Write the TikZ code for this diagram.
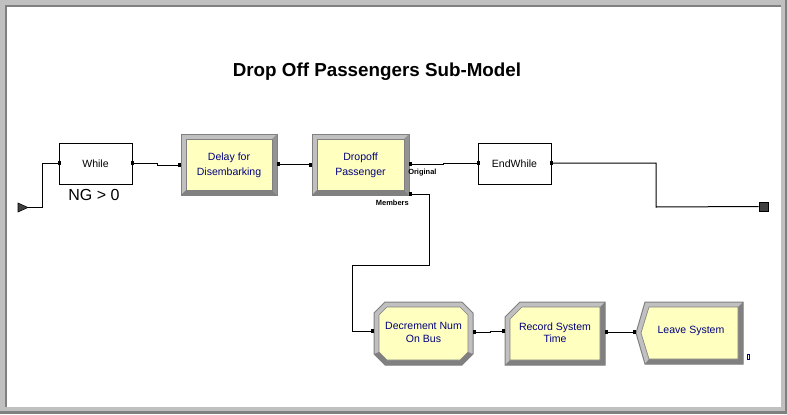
\documentclass[tikz,border=0pt]{standalone}
\usepackage{fontspec}
\setmainfont{Liberation Sans}
\begin{document}
\begin{tikzpicture}[x=0.75pt,y=-0.75pt,
  lbl/.style={inner sep=0pt,outer sep=0pt,align=center,font=\fontsize{7.9pt}{9.2pt}\selectfont},
  ylbl/.style={lbl,text=navy},
  ylblwide/.style={ylbl,font=\fontsize{7.9pt}{11.25pt}\selectfont},
  conn/.style={draw=black,line width=0.75pt},
  tiny/.style={inner sep=0pt,font=\fontsize{5.6pt}{6pt}\selectfont\bfseries}]
\definecolor{navy}{RGB}{0,0,128}
\definecolor{ltgray}{RGB}{192,192,192}
\definecolor{dkgray}{RGB}{128,128,128}
\definecolor{ylw}{RGB}{255,255,192}
\definecolor{endc}{RGB}{64,64,64}
% frame
\fill[ltgray] (0,0) rectangle (787,414);
\fill[dkgray] (785,0) rectangle (787,414);
\fill[dkgray] (0,411) rectangle (787,414);
\fill[dkgray] (5,5) rectangle (781,407);
\fill[white] (7,7) rectangle (781,407);
\useasboundingbox (0,0) rectangle (787,414);

% title
\node[inner sep=0pt,font=\fontsize{14.1pt}{16pt}\selectfont\bfseries] (title) at (377,72) {Drop Off Passengers Sub-Model};

% white boxes
\node[draw=black,line width=0.75pt,fill=white,minimum width=54.75pt,minimum height=30.75pt,inner sep=0pt,lbl] (while) at (95.5,163.5) {While};
\node[inner sep=0pt,font=\fontsize{12pt}{13pt}\selectfont] (ng) at (94,195) {NG > 0};
\node[draw=black,line width=0.75pt,fill=white,minimum width=54.75pt,minimum height=30.75pt,inner sep=0pt,lbl] (endwhile) at (514.5,163.5) {EndWhile};

% bevelled rectangles
\newcommand{\bevrect}[4]{%
  \fill[ltgray,draw=dkgray,line width=0.75pt] (#1,#2) rectangle (#3,#4);
  \fill[dkgray] (#1,#4) -- ++(5,-5) -- (#3-5,#4-5) -- (#3,#4) -- cycle;
  \fill[dkgray!70!ltgray] (#3,#2) -- ++(-5,5) -- (#3-5,#4-5) -- (#3,#4) -- cycle;
  \fill[ylw,draw=dkgray,line width=0.5pt] (#1+5,#2+5) rectangle (#3-5,#4-5);}
\bevrect{181}{134}{277}{195}
\bevrect{312}{134}{409}{195}

% octagon (Decrement)
\fill[ltgray,draw=dkgray,line width=0.75pt] (385,302) -- (462,302) -- (473,313) -- (473,354) -- (462,365) -- (385,365) -- (374,354) -- (374,313) -- cycle;
\fill[dkgray] (374,354) -- (385,365) -- (462,365) -- (473,354) -- (468,352) -- (460,360) -- (387,360) -- (379,352) -- cycle;
\fill[ylw,draw=dkgray,line width=0.5pt] (387,307) -- (460,307) -- (468,315) -- (468,352) -- (460,360) -- (387,360) -- (379,352) -- (379,315) -- cycle;

% cut corner (Record)
\fill[ltgray,draw=dkgray,line width=0.75pt] (520,302) -- (605,302) -- (605,365) -- (505,365) -- (505,317) -- cycle;
\fill[dkgray] (505,365) -- (605,365) -- (605,302) -- (600,307) -- (600,360) -- (510,360) -- cycle;
\fill[ylw,draw=dkgray,line width=0.5pt] (522,307) -- (600,307) -- (600,360) -- (510,360) -- (510,319) -- cycle;

% chevron (Leave)
\fill[ltgray,draw=dkgray,line width=0.75pt] (645,302) -- (743,302) -- (743,364) -- (645,364) -- (636,333) -- cycle;
\fill[dkgray] (645,364) -- (743,364) -- (743,302) -- (738,307) -- (738,359) -- (649,359) -- cycle;
\fill[ylw,draw=dkgray,line width=0.5pt] (649,307) -- (738,307) -- (738,359) -- (649,359) -- (641,333) -- cycle;

% text nodes on yellow shapes
\node[ylblwide,minimum width=72pt,minimum height=45.75pt] (delay) at (229,165.5) {Delay for\\Disembarking};
\node[ylblwide,minimum width=72.75pt,minimum height=45.75pt] (dropoff) at (360.5,165.5) {Dropoff\\Passenger};
\node[ylbl,minimum width=74.25pt,minimum height=47.25pt] (decr) at (423.5,332.5) {Decrement Num\\On Bus};
\node[ylbl,minimum width=75pt,minimum height=47.25pt] (record) at (555,332.5) {Record System\\Time};
\node[ylbl,minimum width=80.25pt,minimum height=46.5pt] (leave) at (691,330.5) {Leave System};

% small blue marker
\draw[navy,line width=0.6pt] (747,354) rectangle (749,359);

% start and end
\fill[endc,draw=black,line width=0.4pt] (18,203) -- (28,207.5) -- (18,212) -- cycle;
\coordinate (startpt) at (28,207.5);
\node[fill=endc,draw=black,line width=0.5pt,minimum size=6.75pt,inner sep=0pt] (endsq) at (763.5,206.5) {};

% connection points
\coordinate (wIn) at (59,163);
\coordinate (wOut) at (132,163);
\coordinate (dIn) at (181,165);
\coordinate (dOut) at (277,164);
\coordinate (pIn) at (312,164.5);
\coordinate (pOrig) at (409,164);
\coordinate (pMem) at (409,194);
\coordinate (eIn) at (478,163);
\coordinate (eOut) at (551,163);
\coordinate (cIn) at (374,331);
\coordinate (cOut) at (473,332);
\coordinate (rIn) at (505,331);
\coordinate (rOut) at (605,332);
\coordinate (lIn) at (636,332);

% connectors
\draw[conn] (startpt) -- (42,207.5) -- (42,163) -- (wIn);
\draw[conn] (wOut) -- (157,163) -- (157,165) -- (dIn);
\draw[conn] (dOut) -- (295,164) -- (295,164.5) -- (pIn);
\draw[conn] (pOrig) -- (443,164) -- (443,163) -- (eIn);
\draw[conn] (pMem) -- (429,194) -- (429,265) -- (352,265) -- (352,331) -- (cIn);
\draw[conn] (eOut) -- (656,163) -- (656,207) -- (endsq.west);
\draw[conn] (cOut) -- (490,332) -- (490,331) -- (rIn);
\draw[conn] (rOut) -- (lIn);

% pins
\foreach \p in {wIn,wOut,eIn,eOut} \fill (\p) ++(-1.5,-2) rectangle ++(3,4);
\foreach \p in {dIn,pIn,cIn,rIn,lIn} \fill (\p) ++(-3,-2) rectangle ++(3,4);
\foreach \p in {dOut,pOrig,pMem,cOut,rOut} \fill (\p) ++(0,-2) rectangle ++(2.5,4);

% port labels
\node[tiny,anchor=west] (orig) at (408,173) {Original};
\node[tiny,anchor=east] (mem) at (409,203) {Members};
\end{tikzpicture}
\end{document}
